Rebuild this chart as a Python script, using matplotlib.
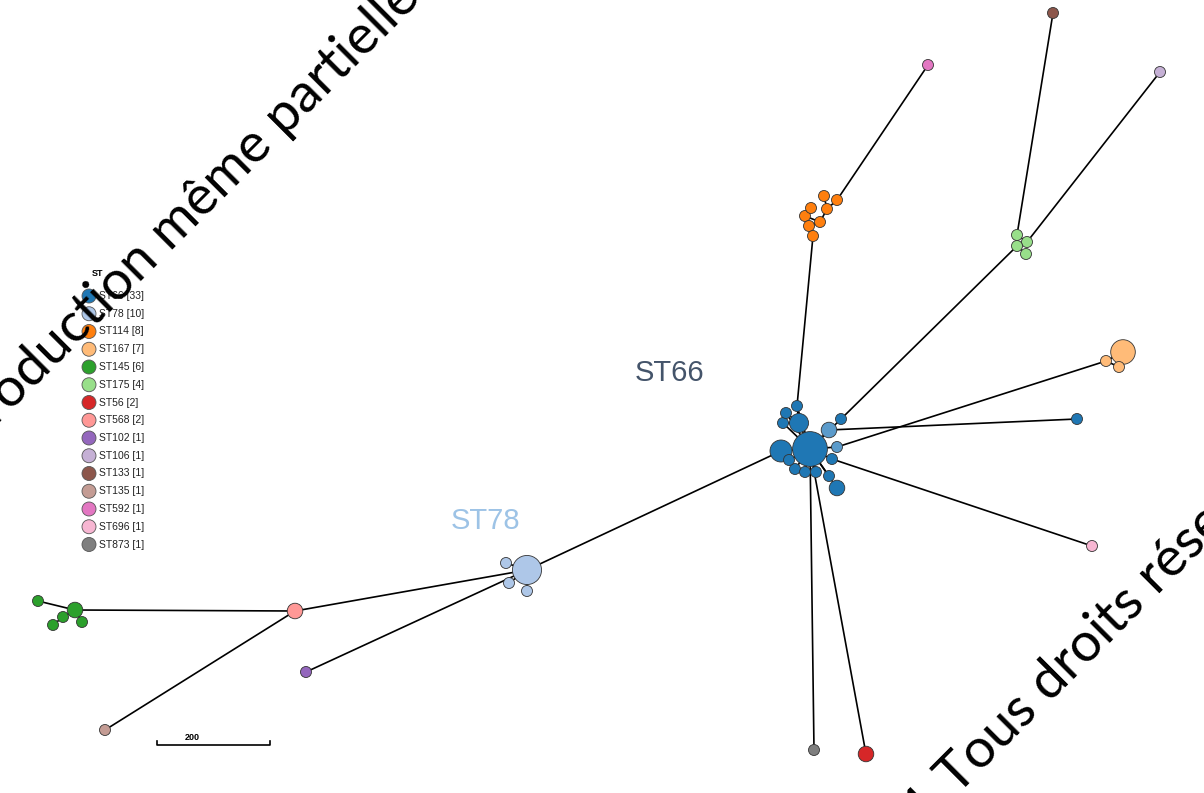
import numpy as np
import matplotlib.pyplot as plt

# Minimum spanning tree of isolates, coloured by sequence type (ST)
st_colors = {
    "ST66": "#1f77b4", "ST66m": "#5b9bcb", "ST78": "#aec7e8", "ST114": "#ff7f0e",
    "ST167": "#ffbb78", "ST145": "#2ca02c", "ST175": "#98df8a", "ST56": "#d62728",
    "ST568": "#ff9896", "ST102": "#9467bd", "ST106": "#c5b0d5", "ST133": "#8c564b",
    "ST135": "#c49c94", "ST592": "#e377c2", "ST696": "#f7b6d2", "ST873": "#7f7f7f",
}

# node layout (pixel space), number of isolates per node and ST
node_x = [810, 781, 786, 797, 783, 799, 829, 841, 837, 789, 795, 805, 816, 832, 829, 837, 1077,
          824, 837, 811, 827, 805, 820, 809, 813,
          1017, 1027, 1017, 1026,
          1123, 1106, 1119,
          527, 506, 509, 527,
          75, 38, 63, 53, 82,
          295, 306, 105, 1053, 1160, 928, 1092, 814, 866]
node_y = [449, 451, 413, 406, 423, 423, 430, 419, 447, 460, 469, 472, 472, 459, 476, 488, 419,
          196, 200, 208, 209, 216, 222, 226, 236,
          235, 242, 246, 254,
          352, 361, 367,
          570, 563, 583, 591,
          610, 601, 617, 625, 622,
          611, 672, 730, 13, 72, 65, 546, 750, 754]
node_n = [10, 4, 1, 1, 1, 3, 2, 1, 1, 1, 1, 1, 1, 1, 1, 2, 1,
          1, 1, 1, 1, 1, 1, 1, 1,
          1, 1, 1, 1,
          5, 1, 1,
          7, 1, 1, 1,
          2, 1, 1, 1, 1,
          2, 1, 1, 1, 1, 1, 1, 1, 2]
node_st = ["ST66", "ST66", "ST66", "ST66", "ST66", "ST66", "ST66m", "ST66", "ST66m", "ST66",
           "ST66", "ST66", "ST66", "ST66", "ST66", "ST66", "ST66",
           "ST114", "ST114", "ST114", "ST114", "ST114", "ST114", "ST114", "ST114",
           "ST175", "ST175", "ST175", "ST175",
           "ST167", "ST167", "ST167",
           "ST78", "ST78", "ST78", "ST78",
           "ST145", "ST145", "ST145", "ST145", "ST145",
           "ST568", "ST102", "ST135", "ST133", "ST106", "ST592", "ST696", "ST873", "ST56"]

edges = [(0, 1), (0, 2), (0, 3), (0, 4), (0, 5), (0, 6), (0, 7), (0, 8), (0, 9), (0, 10),
         (0, 11), (0, 12), (0, 13), (0, 14), (0, 15), (5, 2), (5, 3), (5, 4),
         (3, 24), (24, 23), (23, 22), (22, 21), (22, 20), (21, 19), (20, 17), (20, 18),
         (7, 27), (27, 25), (25, 26), (27, 28), (25, 44), (26, 45),
         (8, 30), (30, 29), (30, 31), (6, 16), (13, 47), (0, 48), (0, 49),
         (18, 46), (1, 32), (32, 33), (32, 34), (32, 35),
         (32, 41), (32, 42), (41, 36), (36, 37), (36, 38), (38, 39), (36, 40), (41, 43)]

# legend entries
legend_labels = ["ST66 [33]", "ST78 [10]", "ST114 [8]", "ST167 [7]", "ST145 [6]", "ST175 [4]",
                 "ST56 [2]", "ST568 [2]", "ST102 [1]", "ST106 [1]", "ST133 [1]", "ST135 [1]",
                 "ST592 [1]", "ST696 [1]", "ST873 [1]"]
legend_keys = [lab.split()[0] for lab in legend_labels]

W, H, DPI = 1204, 793, 100
fig = plt.figure(figsize=(W / DPI, H / DPI), dpi=DPI)
ax = fig.add_axes([0, 0, 1, 1])
ax.set_xlim(0, W)
ax.set_ylim(H, 0)
ax.axis("off")

node_x = np.array(node_x)
node_y = np.array(node_y)
node_n = np.array(node_n)

for a, b in edges:
    ax.plot([node_x[a], node_x[b]], [node_y[a], node_y[b]], color="black", lw=1.2, zorder=1)

# node radius in pixels, area proportional to isolate count
rad = 5.5 * np.sqrt(node_n)
pt = 72 / DPI
order = np.argsort(-node_n)
ax.scatter(node_x[order], node_y[order], s=(2 * rad[order] * pt) ** 2,
           c=[st_colors[node_st[i]] for i in order],
           edgecolors="#333333", linewidths=0.6, zorder=2)

ax.text(670, 373, "ST66", fontsize=21, color="#44546a", ha="center", va="center",
        family="Liberation Sans")
ax.text(486, 521, "ST78", fontsize=21, color="#9dc3e6", ha="center", va="center",
        family="Liberation Sans")

# legend
ax.text(98, 273, "ST", fontsize=6.5, fontweight="bold", ha="center", va="center",
        family="Liberation Sans")
ly = 296 + 17.75 * np.arange(len(legend_labels))
ax.scatter(np.full(len(ly), 89), ly, s=(14 * pt) ** 2,
           c=[st_colors[k] for k in legend_keys], edgecolors="#555555",
           linewidths=0.6, zorder=3)
for y, lab in zip(ly, legend_labels):
    ax.text(99, y, lab, fontsize=7.5, ha="left", va="center", family="Liberation Sans",
            color="#222222", zorder=3)

# scale bar
ax.plot([157, 157, 270, 270], [741, 745, 745, 741], color="black", lw=1.2)
ax.text(192, 737, "200", fontsize=6.5, fontweight="bold", ha="center", va="center",
        family="Liberation Sans")

# watermark
ax.text(-70, 493, "Reproduction même partielle interdite", fontsize=39.4, rotation=45,
        rotation_mode="anchor", ha="left", va="baseline", family="Lato", color="black",
        zorder=5)
ax.text(815, 938, "© 2021 Tous droits réservés", fontsize=39.4, rotation=45,
        rotation_mode="anchor", ha="left", va="baseline", family="Lato", color="black",
        zorder=5)

fig.savefig("out.png", dpi=DPI)
